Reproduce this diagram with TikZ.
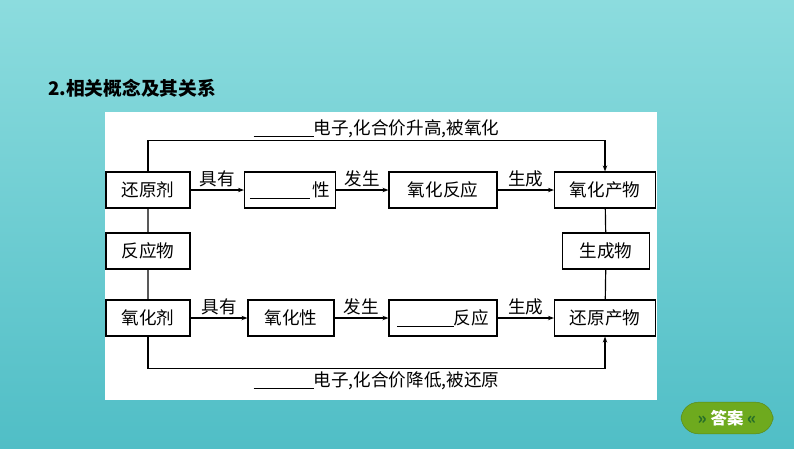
\documentclass[tikz,border=0pt]{standalone}
\usepackage{fontspec}
\setmainfont{Liberation Serif}
\newfontfamily\cjk{Noto Sans CJK SC}
\usetikzlibrary{arrows.meta}
\definecolor{bgtop}{RGB}{140,220,222}
\definecolor{bgbot}{RGB}{80,190,198}
\definecolor{btngreen}{RGB}{110,170,30}
\definecolor{btndark}{RGB}{40,110,40}
\begin{document}
\begin{tikzpicture}[x=0.03cm,y=-0.03cm,
   box/.style={draw,line width=1pt,minimum height=1.08cm,inner sep=1pt,font=\cjk\fontsize{15}{17}\selectfont},
   lbl/.style={font=\cjk\fontsize{15}{17}\selectfont,above,inner sep=2pt},
   arr/.style={line width=1pt,-{Stealth[length=5pt]}}]
   \shade[top color=bgtop,bottom color=bgbot] (0,0) rectangle (794,448);
   \useasboundingbox (0,0) rectangle (794,448);
   \fill[white] (105,112) rectangle (657,400);
   \node[anchor=west,font=\cjk\bfseries\fontsize{16}{18}\selectfont] (title) at (44,88) {2.相关概念及其关系};
   % top row
   \node[box,minimum width=2.52cm] (red) at (148,190) {还原剂};
   \node[box,minimum width=2.73cm] (prop) at (290,190) {\underline{\hspace{1.8cm}}\,性};
   \node[box,minimum width=3.24cm] (oxr) at (443,190) {氧化反应};
   \node[box,minimum width=3.03cm] (oxp) at (605,190) {氧化产物};
   % middle
   \node[box,minimum width=2.52cm] (reac) at (148,251) {反应物};
   \node[box,minimum width=2.61cm] (prod) at (606,251) {生成物};
   % bottom row
   \node[box,minimum width=2.52cm] (oxa) at (148,318) {氧化剂};
   \node[box,minimum width=2.58cm] (oxprop) at (291,318) {氧化性};
   \node[box,minimum width=3.24cm] (rdr) at (443,318) {\underline{\hspace{1.7cm}}反应};
   \node[box,minimum width=3.03cm] (rdp) at (605,318) {还原产物};
   \draw[arr] (red)--(prop) node[lbl,midway] () {具有};
   \draw[arr] (prop)--(oxr) node[lbl,midway] () {发生};
   \draw[arr] (oxr)--(oxp) node[lbl,midway] () {生成};
   \draw[arr] (oxa)--(oxprop) node[lbl,midway] () {具有};
   \draw[arr] (oxprop)--(rdr) node[lbl,midway] () {发生};
   \draw[arr] (rdr)--(rdp) node[lbl,midway] () {生成};
   \draw[line width=1pt] (red)--(reac) (reac)--(oxa) (oxp)--(prod) (prod)--(rdp);
   \draw[arr] (red.north)--++(0,-31) -| (oxp.north) node[lbl,pos=0.25] () {\underline{\hspace{1.8cm}}电子,化合价升高,被氧化};
   \draw[arr] (oxa.south)--++(0,32) -| (rdp.south) node[font=\cjk\fontsize{15}{17}\selectfont,below,pos=0.25,inner sep=2pt] () {\underline{\hspace{1.8cm}}电子,化合价降低,被还原};
   % answer button
   \node[fill=btngreen,draw=btngreen!80!black,rounded corners=15pt,minimum width=2.76cm,minimum height=0.95cm,text=white,font=\cjk\bfseries\fontsize{14}{16}\selectfont] (ans) at (727,418) {\textcolor{btndark}{\guillemotright}\ 答案\ \textcolor{btndark}{\guillemotleft}};
\end{tikzpicture}
\end{document}
